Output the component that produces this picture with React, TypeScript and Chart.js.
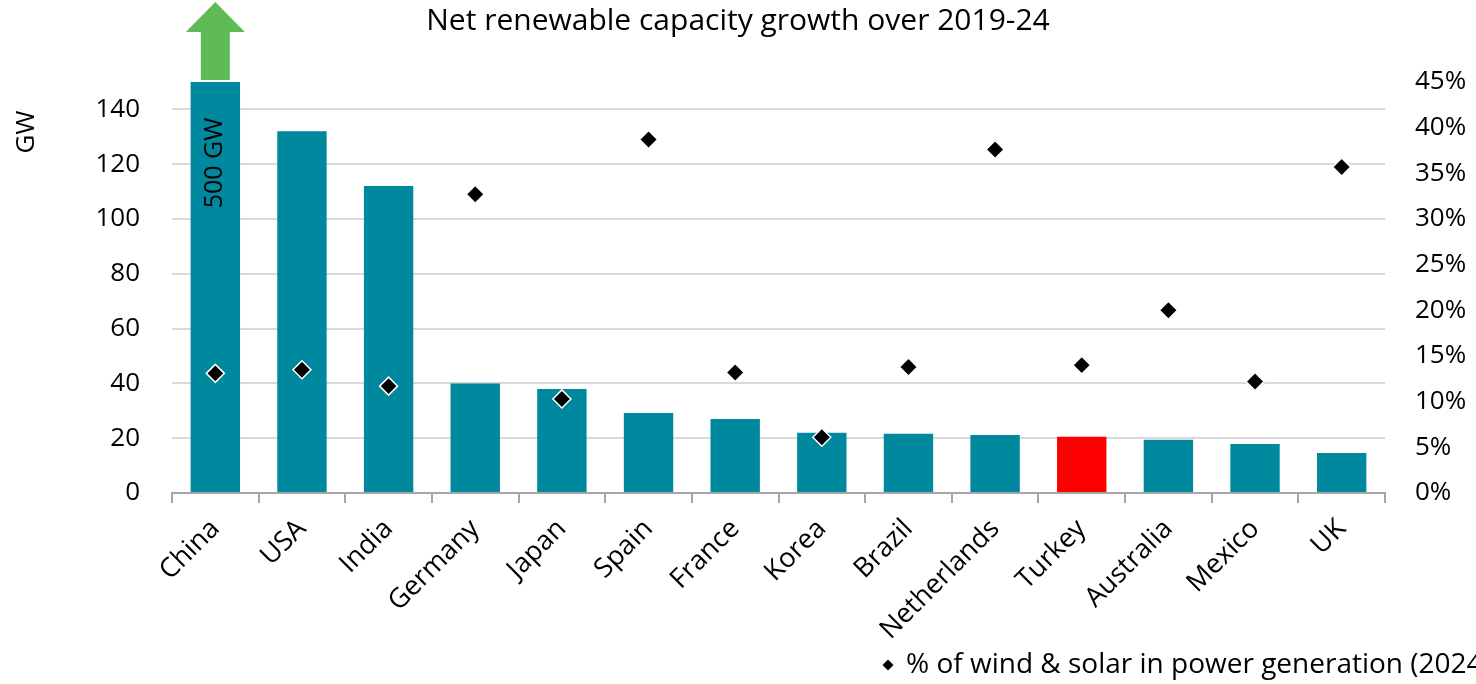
import { useEffect, useRef } from 'react';
import { Chart, registerables } from 'chart.js';

Chart.register(...registerables);

const FONT = '"Open Sans", "Noto Sans", sans-serif';

const chartTitle = 'Net renewable capacity growth over 2019-24';
const unitLabel = 'GW';
const legendLabel = '% of wind & solar in power generation (2024)';

const countries = [
  'China', 'USA', 'India', 'Germany', 'Japan', 'Spain', 'France',
  'Korea', 'Brazil', 'Netherlands', 'Turkey', 'Australia', 'Mexico', 'UK',
];

// Net capacity added 2019-24, GW
const capacityGrowthGW = [500, 132, 112, 40, 38, 29.2, 27, 22, 21.6, 21.2, 20.5, 19.4, 17.9, 14.6];

// Share of wind & solar in power generation in 2024, %
const windSolarSharePct = [13.1, 13.5, 11.7, 32.7, 10.3, 38.7, 13.2, 6.1, 13.8, 37.6, 14.0, 20.0, 12.2, 35.7];

const highlightedCountry = 'Turkey';

const gwAxisMax = 150;
const gwTickStep = 20;
const gwTickTop = 140;
const shareAxisMax = 45;
const shareTickStep = 5;

const BAR_COLOR = '#00889E';
const HIGHLIGHT_COLOR = '#FF0000';
const ARROW_COLOR = '#5FBB55';

// Draws the title, the unit label, the overflow arrow on capped bars,
// their value labels and the bottom legend entry.
const overlayPlugin = {
  id: 'overlay',
  afterDatasetsDraw(chart: any) {
    const ctx = chart.ctx as CanvasRenderingContext2D;
    const meta = chart.getDatasetMeta(0);
    ctx.save();

    capacityGrowthGW.forEach((v, i) => {
      if (v <= gwAxisMax) return;
      const el = meta.data[i] as any;
      const x = el.x;
      const top = el.y;
      const bottom = top - 2;
      const tip = top - 80;
      const headBase = top - 50;
      const shaftHalf = 14.5;
      const headHalf = 29.5;
      ctx.fillStyle = ARROW_COLOR;
      ctx.beginPath();
      ctx.moveTo(x - shaftHalf, bottom);
      ctx.lineTo(x - shaftHalf, headBase);
      ctx.lineTo(x - headHalf, headBase);
      ctx.lineTo(x, tip);
      ctx.lineTo(x + headHalf, headBase);
      ctx.lineTo(x + shaftHalf, headBase);
      ctx.lineTo(x + shaftHalf, bottom);
      ctx.closePath();
      ctx.fill();

      ctx.save();
      ctx.translate(x, top + 81);
      ctx.rotate(-Math.PI / 2);
      ctx.fillStyle = '#000';
      ctx.font = `25px ${FONT}`;
      ctx.textAlign = 'center';
      ctx.textBaseline = 'middle';
      ctx.fillText(`${v} GW`, 0, 0);
      ctx.restore();
    });
    ctx.restore();
  },
  afterDraw(chart: any) {
    const ctx = chart.ctx as CanvasRenderingContext2D;
    ctx.save();
    ctx.fillStyle = '#000';

    ctx.font = `30px ${FONT}`;
    ctx.textAlign = 'center';
    ctx.textBaseline = 'middle';
    ctx.fillText(chartTitle, chart.width / 2, 21);

    ctx.save();
    ctx.translate(27, 132);
    ctx.rotate(-Math.PI / 2);
    ctx.font = `26px ${FONT}`;
    ctx.fillText(unitLabel, 0, 0);
    ctx.restore();

    const ly = 665;
    const lx = 888;
    const r = 5.5;
    ctx.beginPath();
    ctx.moveTo(lx - r, ly);
    ctx.lineTo(lx, ly - r);
    ctx.lineTo(lx + r, ly);
    ctx.lineTo(lx, ly + r);
    ctx.closePath();
    ctx.fill();
    ctx.font = `28px ${FONT}`;
    ctx.textAlign = 'left';
    ctx.fillText(legendLabel, 906, ly);
    ctx.restore();
  },
};

export default function App() {
  const canvasRef = useRef<HTMLCanvasElement | null>(null);

  useEffect(() => {
    document.body.style.margin = '0';
    const canvas = canvasRef.current;
    if (!canvas) return;

    const tickFont = { family: FONT, size: 26 };

    const chart = new Chart(canvas, {
      type: 'bar',
      data: {
        labels: countries,
        datasets: [
          {
            type: 'bar',
            label: 'Net renewable capacity growth (GW)',
            data: capacityGrowthGW.map((v) => Math.min(v, gwAxisMax)),
            backgroundColor: countries.map((c) => (c === highlightedCountry ? HIGHLIGHT_COLOR : BAR_COLOR)),
            barPercentage: 0.57,
            categoryPercentage: 1,
            yAxisID: 'y',
            order: 2,
          },
          {
            type: 'line',
            label: legendLabel,
            data: windSolarSharePct,
            showLine: false,
            pointStyle: 'rectRot',
            pointRadius: 9,
            pointBackgroundColor: '#000',
            pointBorderColor: '#fff',
            pointBorderWidth: 1.5,
            yAxisID: 'y2',
            order: 1,
          },
        ],
      } as any,
      options: {
        animation: false,
        responsive: true,
        maintainAspectRatio: false,
        layout: { padding: { top: 82, left: 0, right: 0, bottom: 0 } },
        plugins: {
          legend: { display: false },
          title: { display: false },
          tooltip: { enabled: false },
        },
        scales: {
          x: {
            grid: {
              offset: true,
              drawOnChartArea: false,
              drawTicks: true,
              tickLength: 10,
              color: '#A6A6A6',
              lineWidth: 2,
            },
            border: { color: '#A6A6A6', width: 2 },
            ticks: {
              minRotation: 45,
              maxRotation: 45,
              autoSkip: false,
              padding: 10,
              color: '#000',
              font: { family: FONT, size: 27 },
            },
            afterFit: (axis: any) => {
              axis.height = 191;
            },
          },
          y: {
            position: 'left',
            min: 0,
            max: gwAxisMax,
            ticks: {
              stepSize: gwTickStep,
              padding: 32,
              color: '#000',
              font: tickFont,
            },
            grid: { color: '#D9D9D9', lineWidth: 2, drawTicks: false },
            border: { display: false },
            afterBuildTicks: (axis: any) => {
              const ticks = [];
              for (let v = 0; v <= gwTickTop; v += gwTickStep) ticks.push({ value: v });
              axis.ticks = ticks;
            },
            afterFit: (axis: any) => {
              axis.width = 172;
            },
          },
          y2: {
            position: 'right',
            min: 0,
            max: shareAxisMax,
            ticks: {
              stepSize: shareTickStep,
              padding: 30,
              color: '#000',
              font: tickFont,
              callback: (v: any) => `${v}%`,
            },
            grid: { display: false, drawTicks: false },
            border: { display: false },
            afterFit: (axis: any) => {
              axis.width = 91;
            },
          },
        },
      } as any,
      plugins: [overlayPlugin],
    });

    return () => chart.destroy();
  }, []);

  return (
    <div style={{ position: 'relative', width: 1476, height: 684 }}>
      <canvas ref={canvasRef} />
    </div>
  );
}
